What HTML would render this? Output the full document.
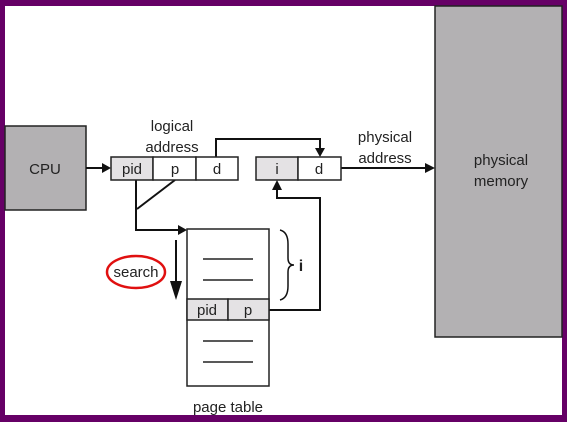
<!DOCTYPE html>
<html><head><style>
html,body{margin:0;padding:0;background:#fff;}
svg{display:block;}
text{font-family:"Liberation Sans",sans-serif;fill:#222;}
</style></head><body>
<svg width="570" height="422" viewBox="0 0 570 422" xmlns="http://www.w3.org/2000/svg">
<rect x="0" y="0" width="570" height="422" fill="#fff"/>
<rect x="0" y="0" width="567" height="6" fill="#660066"/>
<rect x="0" y="0" width="5" height="422" fill="#660066"/>
<rect x="562" y="0" width="5" height="422" fill="#660066"/>
<rect x="0" y="415" width="567" height="7" fill="#660066"/>
<rect x="435" y="6" width="127" height="331" fill="#b3b1b3" stroke="#222" stroke-width="1.5"/>
<text x="501" y="165" font-size="15" text-anchor="middle">physical</text>
<text x="501" y="186" font-size="15" text-anchor="middle">memory</text>
<rect x="5" y="126" width="81" height="84" fill="#b3b1b3" stroke="#222" stroke-width="1.5"/>
<text x="45" y="174" font-size="15" text-anchor="middle">CPU</text>
<g stroke="#111" stroke-width="2" fill="none">
<line x1="86" y1="168" x2="104" y2="168"/>
<polyline points="216,157 216,139 320,139 320,150"/>
<line x1="341" y1="168" x2="427" y2="168"/>
<polyline points="136,180 136,230 180,230"/>
<line x1="175" y1="180" x2="137" y2="209"/>
<line x1="176" y1="240" x2="176" y2="284"/>
<polyline points="269,310 320,310 320,198 277,198 277,188"/>
<path d="M280,230 q8,2 8,14 v14 q0,7 6,7 q-6,0 -6,7 v14 q0,12 -8,14" stroke-width="1.5"/>
</g>
<g fill="#111">
<polygon points="111,168 102,163 102,173"/>
<polygon points="320,157 315,148 325,148"/>
<polygon points="435,168 425,163 425,173"/>
<polygon points="187,230 178,225 178,235"/>
<polygon points="176,300 170,281 182,281"/>
<polygon points="277,180 272,190 282,190"/>
</g>
<text x="172" y="131" font-size="15" text-anchor="middle">logical</text>
<text x="172" y="152" font-size="15" text-anchor="middle">address</text>
<text x="385" y="142" font-size="15" text-anchor="middle">physical</text>
<text x="385" y="163" font-size="15" text-anchor="middle">address</text>
<g stroke="#222" stroke-width="1.5">
<rect x="111" y="157" width="42" height="23" fill="#e4e2e4"/>
<rect x="153" y="157" width="43" height="23" fill="#fff"/>
<rect x="196" y="157" width="42" height="23" fill="#fff"/>
<rect x="256" y="157" width="42" height="23" fill="#e4e2e4"/>
<rect x="298" y="157" width="43" height="23" fill="#fff"/>
</g>
<text x="132" y="174" font-size="15" text-anchor="middle">pid</text>
<text x="175" y="174" font-size="15" text-anchor="middle">p</text>
<text x="217" y="174" font-size="15" text-anchor="middle">d</text>
<text x="277" y="174" font-size="15" text-anchor="middle">i</text>
<text x="319" y="174" font-size="15" text-anchor="middle">d</text>
<g stroke="#222" stroke-width="1.5">
<rect x="187" y="229" width="82" height="157" fill="#fff"/>
<rect x="187" y="299" width="41" height="21" fill="#e4e2e4"/>
<rect x="228" y="299" width="41" height="21" fill="#e4e2e4"/>
<line x1="203" y1="259" x2="253" y2="259"/>
<line x1="203" y1="280" x2="253" y2="280"/>
<line x1="203" y1="341" x2="253" y2="341"/>
<line x1="203" y1="362" x2="253" y2="362"/>
</g>
<text x="207" y="315" font-size="15" text-anchor="middle">pid</text>
<text x="248" y="315" font-size="15" text-anchor="middle">p</text>
<text x="301" y="271" font-size="16" font-weight="bold" text-anchor="middle">i</text>
<text x="228" y="412" font-size="15" text-anchor="middle">page table</text>
<ellipse cx="136" cy="272" rx="29" ry="16" fill="none" stroke="#e01010" stroke-width="2.5"/>
<text x="136" y="277" font-size="15" text-anchor="middle">search</text>
</svg>
</body></html>
